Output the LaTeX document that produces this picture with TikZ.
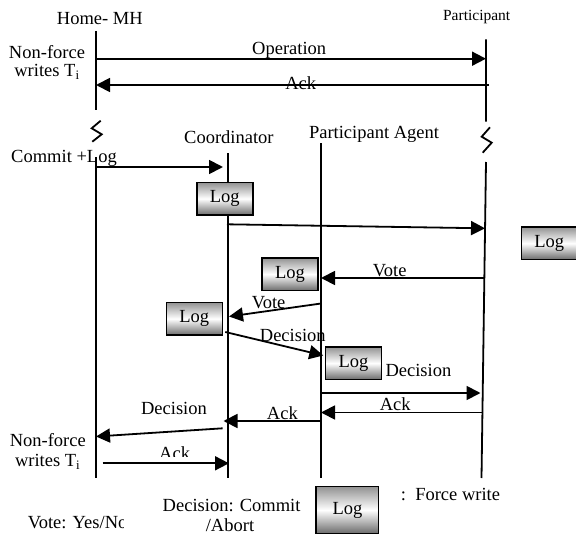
\documentclass[tikz,border=0pt]{standalone}
\usepackage{fontspec}
\setmainfont{Liberation Serif}
\usetikzlibrary{arrows.meta}

\tikzset{
  lifeline/.style={line width=1.8pt},
  msg/.style={line width=1.8pt, -{Triangle[length=14pt,width=14pt]}},
  logbox/.style={draw, line width=1.4pt, inner sep=0pt, minimum width=56pt, minimum height=32.5pt,
    top color=gray!85, bottom color=gray!85!black, middle color=white},
  lbl/.style={inner sep=0pt},
}

\begin{document}
\begin{tikzpicture}[x=1pt, y=-1pt, font=\fontsize{18.5}{20}\selectfont]
        \useasboundingbox (0,0) rectangle (576,535);
        %%Headings
        \node[lbl, anchor=base] (mh) at (99.8,25) {Home- MH};
        \node[lbl, anchor=base, font=\fontsize{15.5}{17}\selectfont] (part) at (476.7,21) {Participant};
        \node[lbl, anchor=base] (coord) at (228.9,143.5) {Coordinator};
        \node[lbl, anchor=base] (agent) at (374,139) {Participant Agent};
        %%Lifelines
        \coordinate (mh-a) at (96,31);
        \coordinate (mh-b) at (96,110);
        \coordinate (mh-c) at (96,157);
        \coordinate (mh-d) at (96,478);
        \coordinate (co-a) at (228,153);
        \coordinate (co-b) at (228,478);
        \coordinate (pa-a) at (321,143.3);
        \coordinate (pa-b) at (321,478);
        \coordinate (pt-a) at (486,39.3);
        \coordinate (pt-b) at (486,121.7);
        \coordinate (pt-c) at (486,162);
        \coordinate (pt-d) at (481.5,478);
        \draw[lifeline] (mh-a) -- (mh-b) (mh-c) -- (mh-d);
        \draw[lifeline] (co-a) -- (co-b);
        \draw[lifeline] (pa-a) -- (pa-b);
        \draw[lifeline] (pt-a) -- (pt-b) (pt-c) -- (pt-d);
        %%Breaks
        \draw[lifeline] (100.7,120.7) -- ++(-9,7.6) -- ++(10,6) -- ++(-9.4,7.4);
        \draw[lifeline] (490,127.3) -- ++(-8.3,9.4) -- ++(10,6) -- ++(-9,10);
        %%Non-force writes
        \node[lbl, anchor=base] (nf1a) at (47,58.5) {Non-force};
        \node[lbl, anchor=base] (nf1b) at (47,76.5) {writes T\textsubscript{i}};
        \node[lbl, anchor=base] (nf2a) at (47.8,446) {Non-force};
        \node[lbl, anchor=base] (nf2b) at (47.7,466.7) {writes T\textsubscript{i}};
        %%Force writes
        \node[logbox] (log1) at (224.8,198.7) {Log};
        \node[logbox, minimum width=55pt] (logr) at (549.2,243.3) {Log};
        \node[logbox] (log2) at (289.9,274.2) {Log};
        \node[logbox] (log3) at (194.3,318.8) {Log};
        \node[logbox] (log4) at (353.5,363.2) {Log};
        %%Message labels
        \node[lbl, anchor=base] (op-l) at (289.2,55) {Operation};
        \node[lbl, anchor=base] (ack1-l) at (300.7,89.5) {Ack};
        \node[lbl, anchor=base] (cm-l) at (64,162) {Commit +Log};
        \node[lbl, anchor=base] (vote1-l) at (389.7,276.7) {Vote};
        \node[lbl, anchor=base] (vote2-l) at (268.6,308.3) {Vote};
        \node[lbl, anchor=base] (dec1-l) at (292.8,341) {Decision};
        \node[lbl, anchor=base] (dec2-l) at (418.4,376.7) {Decision};
        \node[lbl, anchor=base] (ack2-l) at (395.2,410.5) {Ack};
        \node[lbl, anchor=base] (ack3-l) at (282.4,419) {Ack};
        \node[lbl, anchor=base] (dec3-l) at (174,414) {Decision};
        \begin{scope}
          \clip (150,440) rectangle (200,456.7);
          \node[lbl, anchor=base] (ack4-l) at (174.6,459.5) {Ack};
        \end{scope}
        %%Messages
        \coordinate (op-s) at (96,58.7);
        \coordinate (op-e) at (486,58.7);
        \coordinate (ack1-s) at (489,85);
        \coordinate (ack1-e) at (96,85);
        \coordinate (cm-s) at (96,167);
        \coordinate (cm-e) at (223,167);
        \coordinate (prep-s) at (227,224.3);
        \coordinate (prep-e) at (485,228.3);
        \coordinate (vote1-s) at (483.5,278);
        \coordinate (vote1-e) at (321,278);
        \coordinate (vote2-s) at (321,303.5);
        \coordinate (vote2-e) at (229,316.5);
        \coordinate (dec1-s) at (225.3,332);
        \coordinate (dec1-e) at (323.3,355.5);
        \coordinate (dec2-s) at (321,393);
        \coordinate (dec2-e) at (480.5,393);
        \coordinate (ack2-s) at (482,412.5);
        \coordinate (ack2-e) at (321,412.5);
        \coordinate (ack3-s) at (321,421);
        \coordinate (ack3-e) at (223.5,421);
        \coordinate (dec3-s) at (222.7,428.3);
        \coordinate (dec3-e) at (96,436.5);
        \coordinate (ack4-s) at (102.7,463.3);
        \coordinate (ack4-e) at (229,463.3);
        \draw[msg] (op-s) -- (op-e);
        \draw[msg] (ack1-s) -- (ack1-e);
        \draw[msg] (cm-s) -- (cm-e);
        \draw[msg] (prep-s) -- (prep-e);
        \draw[msg] (vote1-s) -- (vote1-e);
        \draw[msg] (vote2-s) -- (vote2-e);
        \draw[msg] (dec1-s) -- (dec1-e);
        \draw[msg] (dec2-s) -- (dec2-e);
        \draw[msg] (ack2-s) -- (ack2-e);
        \draw[msg] (ack3-s) -- (ack3-e);
        \draw[msg] (dec3-s) -- (dec3-e);
        \draw[msg] (ack4-s) -- (ack4-e);
        %%Key
        \begin{scope}
          \clip (0,500) rectangle (123.2,535);
          \node[lbl, anchor=base west] (vote-key) at (27.6,528.3) {Vote: Yes/No};
        \end{scope}
        \node[lbl, anchor=base] (dec-key-a) at (231.6,511.7) {Decision: Commit};
        \node[lbl, anchor=base] (dec-key-b) at (230,531.7) {/Abort};
        \node[logbox, minimum width=62.5pt, minimum height=46.6pt] (log-key) at (347.4,510) {Log};
        \node[lbl, anchor=base west] (fw-key) at (400.7,500.7) {:\ \ Force write};
\end{tikzpicture}
\end{document}
